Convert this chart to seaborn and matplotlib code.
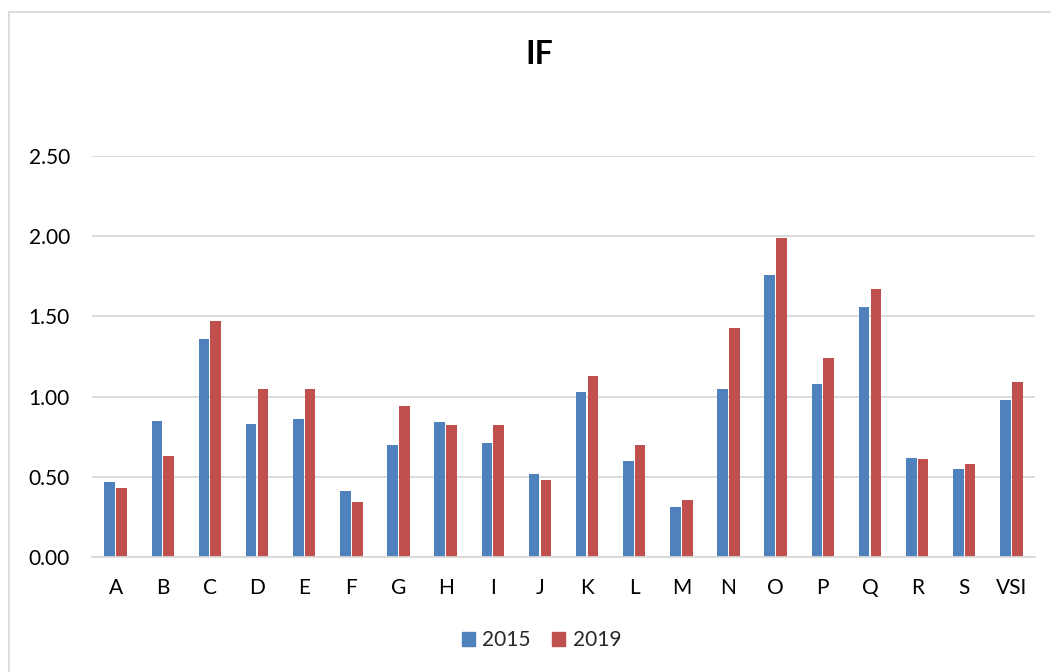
import numpy as np
import pandas as pd
import matplotlib
matplotlib.use("Agg")
import matplotlib.pyplot as plt
import matplotlib.patches as mpatches
import seaborn as sns

categories = ["A", "B", "C", "D", "E", "F", "G", "H", "I", "J", "K", "L", "M",
              "N", "O", "P", "Q", "R", "S", "VSI"]
values_2015 = [0.47, 0.85, 1.36, 0.83, 0.86, 0.41, 0.70, 0.84, 0.71, 0.52,
               1.03, 0.60, 0.31, 1.05, 1.76, 1.08, 1.56, 0.62, 0.55, 0.98]
values_2019 = [0.43, 0.63, 1.47, 1.05, 1.05, 0.34, 0.94, 0.82, 0.82, 0.48,
               1.13, 0.70, 0.355, 1.43, 1.99, 1.24, 1.67, 0.61, 0.58, 1.09]
series_names = ["2015", "2019"]
y_ticks = [0.0, 0.5, 1.0, 1.5, 2.0, 2.5]
title = "IF"

df = pd.DataFrame({
    "cat": categories * 2,
    "year": [series_names[0]] * len(categories) + [series_names[1]] * len(categories),
    "val": values_2015 + values_2019,
})

sns.set_theme(style="white")
plt.rcParams["font.family"] = ["Lato", "DejaVu Sans"]

fig = plt.figure(figsize=(10.51, 6.72), dpi=100)
ax = fig.add_axes([92 / 1051, 1 - 557 / 672, (1035 - 92) / 1051, (557 - 156) / 672])

palette = {"2015": "#4F81BD", "2019": "#C0504D"}
sns.barplot(data=df, x="cat", y="val", hue="year", order=categories,
            hue_order=series_names, palette=palette, width=0.5, gap=0.1,
            saturation=1, ax=ax, legend=False, errorbar=None, linewidth=0)

ax.set_ylim(0, 2.5)
ax.set_xlim(-0.5, len(categories) - 0.5)
ax.set_yticks(y_ticks)
ax.set_yticklabels([f"{t:.2f}" for t in y_ticks])
ax.yaxis.grid(True, color="#d9d9d9", linewidth=1.3)
ax.set_axisbelow(True)
for s in ["top", "right", "left"]:
    ax.spines[s].set_visible(False)
ax.spines["bottom"].set_color("#d9d9d9")
ax.spines["bottom"].set_linewidth(1.3)
ax.tick_params(axis="y", length=0, pad=16, labelsize=15, labelcolor="#000000")
ax.tick_params(axis="x", length=0, pad=15, labelsize=15, labelcolor="#000000")
ax.set_xlabel("")
ax.set_ylabel("")

fig.text(0.513, 1 - 55 / 672, title, ha="center", va="center",
         fontsize=23, fontweight="bold", color="#000000")

handles = [mpatches.Patch(color=palette[n], label=n) for n in series_names]
fig.legend(handles=handles, loc="center", bbox_to_anchor=(0.515, 1 - 640 / 672),
           ncol=2, frameon=False, fontsize=15, handlelength=0.65, handleheight=0.65,
           handletextpad=0.35, columnspacing=1.0)

# chart border (cropped at right and bottom)
border = mpatches.Rectangle((9 / 1051, -0.1), 1.2, 1 - 11.5 / 672 + 0.1,
                            transform=fig.transFigure, fill=False,
                            edgecolor="#d9d9d9", linewidth=1.3, clip_on=False)
fig.patches.append(border)

fig.savefig("out.png", dpi=100, facecolor="white")
